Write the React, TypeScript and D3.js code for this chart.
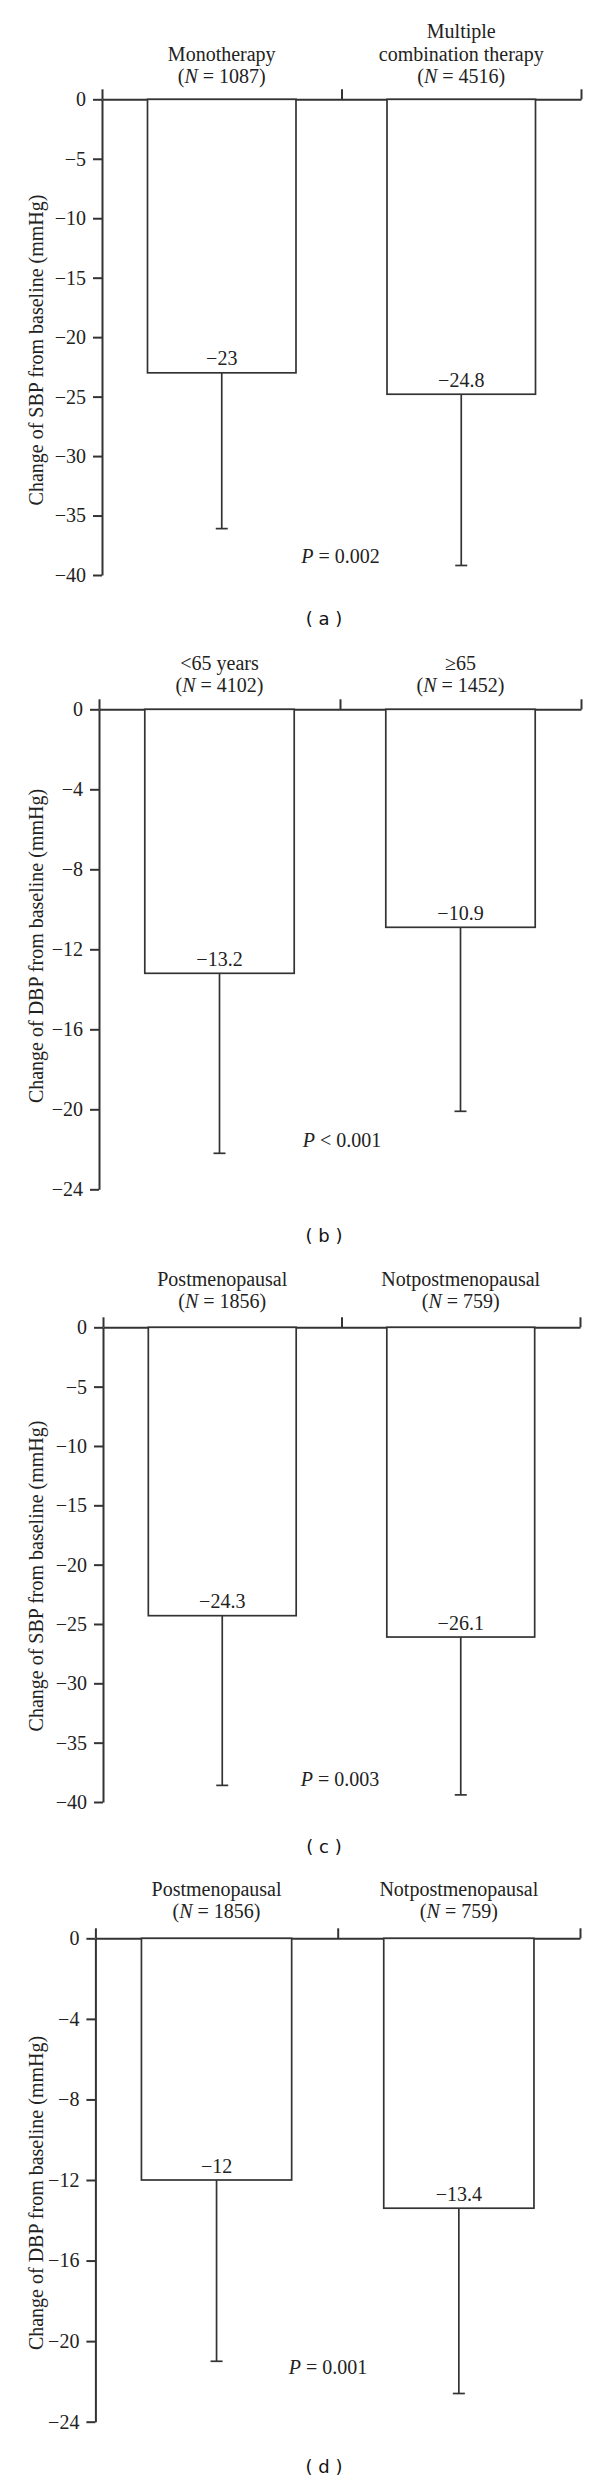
import React, { useEffect, useRef } from 'react';
import * as d3 from 'd3';

// (a) SBP change, mono vs combination therapy
const groupsA = [['Monotherapy'], ['Multiple', 'combination therapy']];
const countsA = [1087, 4516];
const meansA = [-23, -24.8];
const sdsA = [13.1, 14.4];

// (b) DBP change by age
const groupsB = [['<65 years'], ['≥65']];
const countsB = [4102, 1452];
const meansB = [-13.2, -10.9];
const sdsB = [9.0, 9.2];

// (c) SBP change by menopausal status
const groupsC = [['Postmenopausal'], ['Notpostmenopausal']];
const countsC = [1856, 759];
const meansC = [-24.3, -26.1];
const sdsC = [14.3, 13.3];

// (d) DBP change by menopausal status
const groupsD = [['Postmenopausal'], ['Notpostmenopausal']];
const countsD = [1856, 759];
const meansD = [-12, -13.4];
const sdsD = [9.0, 9.2];

const ticksSBP = [0, -5, -10, -15, -20, -25, -30, -35, -40];
const ticksDBP = [0, -4, -8, -12, -16, -20, -24];
const titleSBP = 'Change of SBP from baseline (mmHg)';
const titleDBP = 'Change of DBP from baseline (mmHg)';
const pSigns = ['=', '<', '=', '='];
const pValues = ['0.002', '0.001', '0.003', '0.001'];
const letters = ['a', 'b', 'c', 'd'];

const panels = [
  { groups: groupsA, counts: countsA, means: meansA, sds: sdsA, ticks: ticksSBP, title: titleSBP },
  { groups: groupsB, counts: countsB, means: meansB, sds: sdsB, ticks: ticksDBP, title: titleDBP },
  { groups: groupsC, counts: countsC, means: meansC, sds: sdsC, ticks: ticksSBP, title: titleSBP },
  { groups: groupsD, counts: countsD, means: meansD, sds: sdsD, ticks: ticksDBP, title: titleDBP },
];

// where each panel sits on the page
const layout = [
  { top: 99.3, bottom: 575, left: 102, right: 581, labelGap: 16, titleY: 350, pX: 340.5, pY: 563, capY: 625 },
  { top: 709.3, bottom: 1189.3, left: 99, right: 581, labelGap: 17, titleY: 946, pX: 342, pY: 1147, capY: 1242 },
  { top: 1327.3, bottom: 1802, left: 103, right: 580, labelGap: 19, titleY: 1576, pX: 340, pY: 1786, capY: 1853 },
  { top: 1938.3, bottom: 2421.7, left: 95.4, right: 580, labelGap: 20, titleY: 2193, pX: 328, pY: 2374, capY: 2473 },
];

const serif = '"Liberation Serif", "Times New Roman", serif';
const ink = '#333';
const textInk = '#222';
const fontSize = 20;

export default function App() {
  const svgRef = useRef<SVGSVGElement>(null);

  useEffect(() => {
    const svg = d3.select(svgRef.current);
    svg.selectAll('*').remove();

    panels.forEach((p, i) => {
      const L = layout[i];
      const g = svg.append('g').style('font-family', serif);
      const y = d3.scaleLinear()
        .domain([p.ticks[p.ticks.length - 1], 0])
        .range([L.bottom, L.top]);
      const x = d3.scaleBand()
        .domain(p.groups.map((_, j) => String(j)))
        .range([L.left, L.right])
        .paddingInner(0.38)
        .paddingOuter(0.19);
      const edges = d3.scaleLinear().domain([0, p.groups.length]).range([L.left, L.right]);

      // top axis with boundary ticks pointing up
      g.append('g')
        .attr('transform', `translate(0,${y(0)})`)
        .call(d3.axisTop(edges).tickValues(d3.range(p.groups.length + 1)).tickSize(10).tickSizeOuter(0).tickFormat(() => ''))
        .call(a => a.selectAll('path, line').attr('stroke', ink).attr('stroke-width', 2));

      const yAxis = g.append('g')
        .attr('transform', `translate(${L.left},0)`)
        .call(d3.axisLeft(y).tickValues(p.ticks).tickSize(9).tickSizeOuter(0).tickPadding(7).tickFormat(d3.format('d')));
      yAxis.attr('font-family', null).attr('font-size', null);
      yAxis.selectAll('path, line').attr('stroke', ink).attr('stroke-width', 2);
      yAxis.selectAll('text')
        .style('font-family', serif)
        .style('font-size', `${fontSize}px`)
        .attr('fill', textInk);

      const bw = x.bandwidth();
      p.means.forEach((m, j) => {
        const x0 = x(String(j)) as number;
        const cx = x0 + bw / 2;
        g.append('rect')
          .attr('x', x0)
          .attr('y', y(0))
          .attr('width', bw)
          .attr('height', y(m) - y(0))
          .attr('fill', '#fff')
          .attr('stroke', ink)
          .attr('stroke-width', 1.7);
        const low = m - p.sds[j];
        g.append('line')
          .attr('x1', cx).attr('x2', cx)
          .attr('y1', y(m)).attr('y2', y(low))
          .attr('stroke', ink).attr('stroke-width', 1.7);
        g.append('line')
          .attr('x1', cx - 6).attr('x2', cx + 6)
          .attr('y1', y(low)).attr('y2', y(low))
          .attr('stroke', ink).attr('stroke-width', 1.7);
        g.append('text')
          .attr('x', cx)
          .attr('y', y(m) - 7.5)
          .attr('text-anchor', 'middle')
          .attr('font-size', fontSize)
          .attr('fill', textInk)
          .text(d3.format('')(m).replace('-', '\u2212'));

        // group label over the bar
        const lines = p.groups[j];
        lines.forEach((ln, k) => {
          g.append('text')
            .attr('x', cx)
            .attr('y', y(0) - L.labelGap - 22.5 * (lines.length - k))
            .attr('text-anchor', 'middle')
            .attr('font-size', fontSize)
            .attr('fill', textInk)
            .text(ln);
        });
        const nt = g.append('text')
          .attr('x', cx)
          .attr('y', y(0) - L.labelGap)
          .attr('text-anchor', 'middle')
          .attr('font-size', fontSize)
          .attr('fill', textInk);
        nt.append('tspan').text('(');
        nt.append('tspan').attr('font-style', 'italic').text('N');
        nt.append('tspan').text(` = ${p.counts[j]})`);
      });

      // y title
      g.append('text')
        .attr('transform', `translate(43,${L.titleY}) rotate(-90)`)
        .attr('text-anchor', 'middle')
        .attr('font-size', fontSize)
        .attr('fill', textInk)
        .text(p.title);

      // p value
      const pt = g.append('text')
        .attr('x', L.pX)
        .attr('y', L.pY)
        .attr('text-anchor', 'middle')
        .attr('font-size', fontSize)
        .attr('fill', textInk);
      pt.append('tspan').attr('font-style', 'italic').text('P');
      pt.append('tspan').text(` ${pSigns[i]} ${pValues[i]}`);

      // panel caption
      g.append('text')
        .attr('x', 324)
        .attr('y', L.capY)
        .attr('text-anchor', 'middle')
        .style('font-family', '"DejaVu Sans", Verdana, sans-serif')
        .attr('font-size', 18)
        .attr('fill', '#111')
        .attr('xml:space', 'preserve')
        .text(`( ${letters[i]} )`);
    });
  }, []);

  return (
    <svg
      ref={svgRef}
      width={600}
      height={2480}
      style={{ position: 'absolute', left: 0, top: 0, display: 'block', background: '#fff' }}
    />
  );
}
